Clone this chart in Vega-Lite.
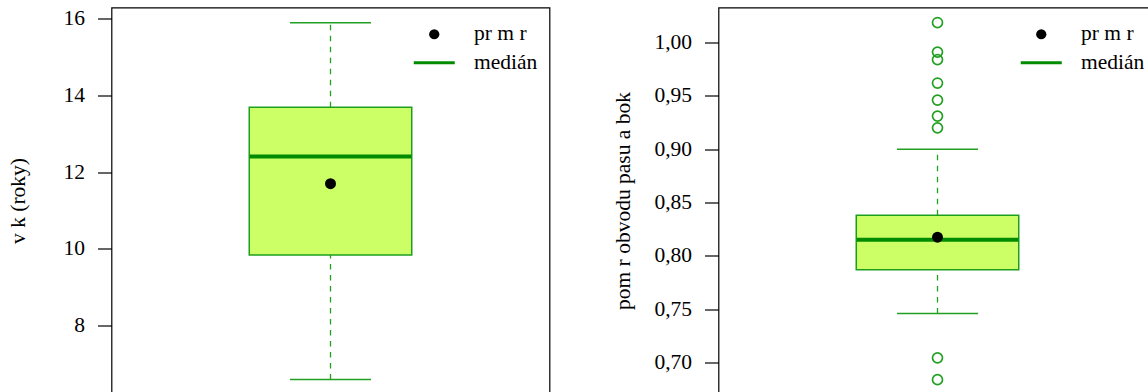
{
  "$schema": "https://vega.github.io/schema/vega-lite/v6.json",
  "background": "white",
  "padding": {"left": 6.5, "top": 6.5, "right": 0, "bottom": 0},
  "spacing": 169,
  "bounds": "flush",
  "resolve": {
    "scale": {"x": "independent", "y": "independent", "shape": "independent", "color": "independent"},
    "legend": {"shape": "independent", "color": "independent"}
  },
  "hconcat": [
    {
      "width": 438,
      "height": 386,
      "data": {"values": [{"g": "a", "lo": 6.59, "q1": 9.84, "med": 12.41, "q3": 13.69, "hi": 15.9, "mean": 11.7, "stat": "pr m r"}]},
      "encoding": {"x": {"field": "g", "type": "nominal", "axis": null, "scale": {"paddingInner": 0, "paddingOuter": 0}}},
      "layer": [
        {
          "mark": {"type": "rule", "stroke": "#22A022", "strokeWidth": 1.3, "strokeDash": [5.5, 5.5]},
          "encoding": {
            "y": {"field": "q3", "type": "quantitative", "scale": {"domain": [6.227, 16.295], "nice": false, "zero": false},
              "title": "v k (roky)",
              "axis": {"values": [8, 10, 12, 14, 16], "format": "d", "minExtent": 48, "maxExtent": 48, "titlePadding": 34}},
            "y2": {"field": "hi"}
          }
        },
        {
          "mark": {"type": "rule", "stroke": "#22A022", "strokeWidth": 1.3, "strokeDash": [5.5, 5.5]},
          "encoding": {"y": {"field": "lo", "type": "quantitative"}, "y2": {"field": "q1"}}
        },
        {
          "mark": {"type": "tick", "orient": "horizontal", "size": 81, "thickness": 1.5, "color": "#22A022", "opacity": 1},
          "encoding": {"y": {"field": "hi", "type": "quantitative"}}
        },
        {
          "mark": {"type": "tick", "orient": "horizontal", "size": 81, "thickness": 1.5, "color": "#22A022", "opacity": 1},
          "encoding": {"y": {"field": "lo", "type": "quantitative"}}
        },
        {
          "mark": {"type": "bar", "width": {"band": 0.371}, "fill": "#CCFF66", "stroke": "#1E9E1E", "strokeWidth": 1.5},
          "encoding": {"y": {"field": "q1", "type": "quantitative"}, "y2": {"field": "q3"}}
        },
        {
          "mark": {"type": "tick", "orient": "horizontal", "size": 162, "thickness": 4, "color": "#008B00", "opacity": 1},
          "encoding": {"y": {"field": "med", "type": "quantitative"}}
        },
        {
          "mark": {"type": "point", "filled": true, "size": 120, "opacity": 1},
          "encoding": {
            "y": {"field": "mean", "type": "quantitative"},
            "color": {"field": "stat", "type": "nominal",
              "scale": {"domain": ["pr m r", "medián"], "range": ["black", "#008B00"]},
              "legend": {"orient": "none", "legendX": 312, "legendY": 16, "title": null, "padding": 0,
                "symbolSize": 105, "labelOffset": 29, "rowPadding": 5.5,
                "labelFont": "Liberation Serif", "labelFontSize": 21.5, "labelColor": "black",
                "encode": {"symbols": {"update": {"size": {"signal": "datum.value === 'medián' ? 105 : 60"}, "opacity": {"value": 1}}}}}},
            "shape": {"field": "stat", "type": "nominal",
              "scale": {"domain": ["pr m r", "medián"], "range": ["circle", "M-4,-0.3H4V0.3H-4Z"]},
              "legend": {"orient": "none", "legendX": 312, "legendY": 16, "title": null, "padding": 0,
                "symbolSize": 105, "labelOffset": 29, "rowPadding": 5.5,
                "labelFont": "Liberation Serif", "labelFontSize": 21.5, "labelColor": "black",
                "encode": {"symbols": {"update": {"size": {"signal": "datum.value === 'medián' ? 105 : 60"}, "opacity": {"value": 1}}}}}
            }
          }
        }
      ]
    },
    {
      "width": 438,
      "height": 386,
      "encoding": {"x": {"field": "g", "type": "nominal", "axis": null, "scale": {"paddingInner": 0, "paddingOuter": 0}}},
      "layer": [
        {
          "data": {"values": [{"g": "b", "lo": 0.746, "q1": 0.787, "med": 0.815, "q3": 0.838, "hi": 0.9, "mean": 0.8175, "stat": "pr m r"}]},
          "layer": [
            {
              "mark": {"type": "rule", "stroke": "#22A022", "strokeWidth": 1.3, "strokeDash": [5.5, 5.5]},
              "encoding": {
                "y": {"field": "q3", "type": "quantitative", "scale": {"domain": [0.671, 1.0328], "nice": false, "zero": false},
                  "title": "pom r obvodu pasu a bok",
                  "axis": {"values": [0.7, 0.75, 0.8, 0.85, 0.9, 0.95, 1.0], "labelExpr": "replace(format(datum.value, '.2f'), '.', ',')", "minExtent": 65, "maxExtent": 65, "titlePadding": 19.5}},
                "y2": {"field": "hi"}
              }
            },
            {
              "mark": {"type": "rule", "stroke": "#22A022", "strokeWidth": 1.3, "strokeDash": [5.5, 5.5]},
              "encoding": {"y": {"field": "lo", "type": "quantitative"}, "y2": {"field": "q1"}}
            },
            {
              "mark": {"type": "tick", "orient": "horizontal", "size": 81, "thickness": 1.5, "color": "#22A022", "opacity": 1},
              "encoding": {"y": {"field": "hi", "type": "quantitative"}}
            },
            {
              "mark": {"type": "tick", "orient": "horizontal", "size": 81, "thickness": 1.5, "color": "#22A022", "opacity": 1},
              "encoding": {"y": {"field": "lo", "type": "quantitative"}}
            },
            {
              "mark": {"type": "bar", "width": {"band": 0.371}, "fill": "#CCFF66", "stroke": "#1E9E1E", "strokeWidth": 1.5},
              "encoding": {"y": {"field": "q1", "type": "quantitative"}, "y2": {"field": "q3"}}
            },
            {
              "mark": {"type": "tick", "orient": "horizontal", "size": 162, "thickness": 4, "color": "#008B00", "opacity": 1},
              "encoding": {"y": {"field": "med", "type": "quantitative"}}
            },
            {
              "mark": {"type": "point", "filled": true, "size": 120, "opacity": 1},
              "encoding": {
                "y": {"field": "mean", "type": "quantitative"},
                "color": {"field": "stat", "type": "nominal",
                  "scale": {"domain": ["pr m r", "medián"], "range": ["black", "#008B00"]},
                  "legend": {"orient": "none", "legendX": 312, "legendY": 16, "title": null, "padding": 0,
                    "symbolSize": 105, "labelOffset": 29, "rowPadding": 5.5,
                    "labelFont": "Liberation Serif", "labelFontSize": 21.5, "labelColor": "black",
                    "encode": {"symbols": {"update": {"size": {"signal": "datum.value === 'medián' ? 105 : 60"}, "opacity": {"value": 1}}}}}},
                "shape": {"field": "stat", "type": "nominal",
                  "scale": {"domain": ["pr m r", "medián"], "range": ["circle", "M-4,-0.3H4V0.3H-4Z"]},
                  "legend": {"orient": "none", "legendX": 312, "legendY": 16, "title": null, "padding": 0,
                    "symbolSize": 105, "labelOffset": 29, "rowPadding": 5.5,
                    "labelFont": "Liberation Serif", "labelFontSize": 21.5, "labelColor": "black",
                    "encode": {"symbols": {"update": {"size": {"signal": "datum.value === 'medián' ? 105 : 60"}, "opacity": {"value": 1}}}}}
                }
              }
            }
          ]
        },
        {
          "data": {"values": [
            {"g": "b", "v": 1.0187}, {"g": "b", "v": 0.991}, {"g": "b", "v": 0.984}, {"g": "b", "v": 0.962},
            {"g": "b", "v": 0.946}, {"g": "b", "v": 0.931}, {"g": "b", "v": 0.92}, {"g": "b", "v": 0.7044}, {"g": "b", "v": 0.684}
          ]},
          "mark": {"type": "point", "filled": false, "stroke": "#22A022", "strokeWidth": 1.7, "size": 100, "opacity": 1},
          "encoding": {"y": {"field": "v", "type": "quantitative"}}
        }
      ]
    }
  ],
  "config": {
    "font": "Liberation Serif",
    "view": {"stroke": "black", "strokeWidth": 1.2},
    "axis": {
      "domain": false, "grid": false, "ticks": true, "tickSize": 14, "tickColor": "black", "tickWidth": 1.2,
      "labelPadding": 13, "labelFont": "Liberation Serif", "labelFontSize": 21.5, "labelColor": "black",
      "labelFlush": false, "labelOverlap": false,
      "titleFont": "Liberation Serif", "titleFontSize": 21.5, "titleFontWeight": "normal", "titleColor": "black"
    }
  }
}
